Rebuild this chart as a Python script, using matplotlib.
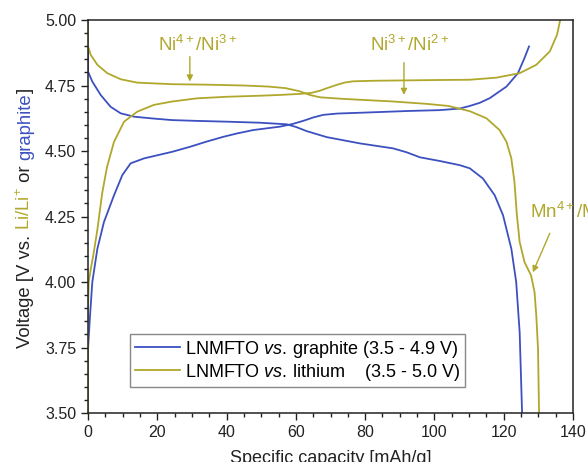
import matplotlib
matplotlib.use("Agg")
import matplotlib.pyplot as plt
from matplotlib.ticker import MultipleLocator, FormatStrFormatter

plt.rcParams['font.family'] = ['Liberation Sans', 'DejaVu Sans']
plt.rcParams['mathtext.fontset'] = 'custom'
plt.rcParams['mathtext.rm'] = 'Liberation Sans'
plt.rcParams['mathtext.it'] = 'Liberation Sans:italic'

GOLD = '#b0a82c'
BLUE = '#3c50c0'
INK = '#222222'

# LNMFTO vs. lithium, charge (3.5 - 5.0 V)
li_chg_cap = [0, 0, 0.2, 0.8, 1.5, 2.7, 4.1, 5.5, 7.5, 10.4, 14.2, 19.0, 24.3, 31.4, 40.0,
              49.6, 55.4, 61.1, 64.5, 66.9, 69.0, 71.7, 74.0, 76.5, 82.0, 88.1, 101.5, 110.2,
              117.9, 124.6, 129.4, 133.3, 135.4, 136.3]
li_chg_v = [3.50, 3.90, 4.00, 4.05, 4.10, 4.20, 4.34, 4.44, 4.535, 4.612, 4.65, 4.676, 4.689,
            4.701, 4.707, 4.711, 4.714, 4.718, 4.722, 4.730, 4.740, 4.752, 4.761, 4.766, 4.768,
            4.769, 4.771, 4.772, 4.780, 4.797, 4.829, 4.880, 4.944, 5.00]

# LNMFTO vs. lithium, discharge
li_dis_cap = [0, 0, 0.77, 2.7, 5.57, 9.4, 14.2, 24.3, 35.0, 45.0, 52.0, 57.0, 61.1, 64.0,
              67.0, 73.6, 88.1, 97.7, 104.0, 110.2, 115.0, 118.8, 120.8, 122.2, 123.1, 123.8,
              124.6, 126.0, 127.9, 128.9, 129.4, 129.9, 130.2]
li_dis_v = [5.00, 4.90, 4.867, 4.829, 4.797, 4.774, 4.761, 4.755, 4.753, 4.750, 4.746, 4.740,
            4.728, 4.714, 4.705, 4.699, 4.689, 4.680, 4.672, 4.652, 4.625, 4.580, 4.535, 4.472,
            4.382, 4.255, 4.153, 4.076, 4.025, 3.961, 3.872, 3.745, 3.50]

# LNMFTO vs. graphite, charge (3.5 - 4.9 V)
gr_chg_cap = [0, 0, 0.58, 1.24, 2.7, 4.6, 7.5, 9.9, 12.3, 16.2, 24.3, 29.4, 34.0, 39.0, 43.0,
              47.7, 55.4, 59.0, 62.1, 65.0, 67.9, 72.0, 78.5, 92.9, 101.5, 107.3, 110.2, 113.1,
              116.0, 120.8, 124.1, 126.0, 127.3]
gr_chg_v = [3.50, 3.745, 3.872, 4.00, 4.127, 4.229, 4.331, 4.408, 4.453, 4.472, 4.497, 4.516,
            4.535, 4.554, 4.567, 4.580, 4.593, 4.603, 4.615, 4.628, 4.638, 4.643, 4.646, 4.653,
            4.656, 4.662, 4.672, 4.684, 4.702, 4.746, 4.797, 4.855, 4.899]

# LNMFTO vs. graphite, discharge
gr_dis_cap = [0, 0, 1.24, 3.65, 6.5, 9.4, 13.3, 18.8, 24.3, 31.4, 40.0, 49.6, 57.3, 60.0, 63.1,
              68.9, 78.5, 88.1, 92.0, 95.8, 101.5, 107.3, 110.2, 114.0, 117.4, 119.8, 122.2,
              123.6, 124.6, 125.3]
gr_dis_v = [4.90, 4.803, 4.765, 4.714, 4.669, 4.644, 4.631, 4.624, 4.618, 4.615, 4.612, 4.608,
            4.602, 4.592, 4.576, 4.553, 4.529, 4.510, 4.495, 4.476, 4.462, 4.446, 4.434, 4.395,
            4.331, 4.255, 4.127, 4.00, 3.808, 3.50]

fig = plt.figure(figsize=(5.88, 4.62), dpi=100)
ax = fig.add_axes([0.1497, 0.106, 0.8248, 0.8507])

ax.plot(gr_chg_cap, gr_chg_v, color=BLUE, lw=1.3,
        label='LNMFTO $\\mathit{vs.}\\,$graphite (3.5 - 4.9 V)')
ax.plot(gr_dis_cap, gr_dis_v, color=BLUE, lw=1.3)
ax.plot(li_chg_cap, li_chg_v, color=GOLD, lw=1.3,
        label='LNMFTO $\\mathit{vs.}\\,$lithium    (3.5 - 5.0 V)')
ax.plot(li_dis_cap, li_dis_v, color=GOLD, lw=1.3)

ax.set_xlim(0, 140)
ax.set_ylim(3.5, 5.0)
ax.xaxis.set_major_locator(MultipleLocator(20))
ax.xaxis.set_minor_locator(MultipleLocator(5))
ax.yaxis.set_major_locator(MultipleLocator(0.25))
ax.yaxis.set_minor_locator(MultipleLocator(0.05))
ax.yaxis.set_major_formatter(FormatStrFormatter('%.2f'))
ax.tick_params(which='major', length=5, width=1, labelsize=11.5, colors=INK)
ax.tick_params(which='minor', length=3, width=1, colors=INK)
for sp in ax.spines.values():
    sp.set_linewidth(1.1)
    sp.set_color(INK)

ax.set_xlabel('Specific capacity [mAh/g]', fontsize=13, labelpad=7, color=INK)

leg = ax.legend(loc='lower left', bbox_to_anchor=(0.087, 0.066), fontsize=13,
                handlelength=2.5, handletextpad=0.3, borderpad=0.25,
                labelspacing=0.1, fancybox=False, framealpha=1, edgecolor='#888888',
                borderaxespad=0)
leg.get_frame().set_linewidth(1.0)

# redox annotations
arrow = dict(arrowstyle='-|>', color=GOLD, lw=1.0, mutation_scale=9, shrinkA=0, shrinkB=0)
ax.text(31.7, 4.905, 'Ni$^{4+}$/Ni$^{3+}$', color=GOLD, fontsize=13.5, ha='center', va='center')
ax.annotate('', xy=(29.4, 4.765), xytext=(29.4, 4.86), arrowprops=arrow)
ax.text(92.9, 4.905, 'Ni$^{3+}$/Ni$^{2+}$', color=GOLD, fontsize=13.5, ha='center', va='center')
ax.annotate('', xy=(91.2, 4.714), xytext=(91.2, 4.837), arrowprops=arrow)
ax.text(127.5, 4.266, 'Mn$^{4+}$/Mn$^{3+}$', color=GOLD, fontsize=13.5, ha='left', va='center',
        clip_on=False)
ax.annotate('', xy=(128.4, 4.037), xytext=(133.3, 4.186), arrowprops=arrow)

# y label in several colours, stacked along the rotated baseline
pieces = [('Voltage [V vs. ', INK), ('Li/Li$^{+}$', GOLD), (' or ', INK),
          ('graphite', BLUE), (']', INK)]
renderer = fig.canvas.get_renderer()
texts = []
for s, c in pieces:
    t = fig.text(0, 0, s, color=c, fontsize=13.3, rotation=90, rotation_mode='anchor',
                 ha='left', va='baseline')
    texts.append(t)
lengths = [t.get_window_extent(renderer).height for t in texts]
total = sum(lengths)
W = fig.get_figwidth() * fig.dpi
H = fig.get_figheight() * fig.dpi
x_base = 30.0
y_pos = 244.0 - total / 2
for t, L in zip(texts, lengths):
    t.set_position((x_base / W, y_pos / H))
    y_pos += L

fig.savefig('out.png', dpi=100)
